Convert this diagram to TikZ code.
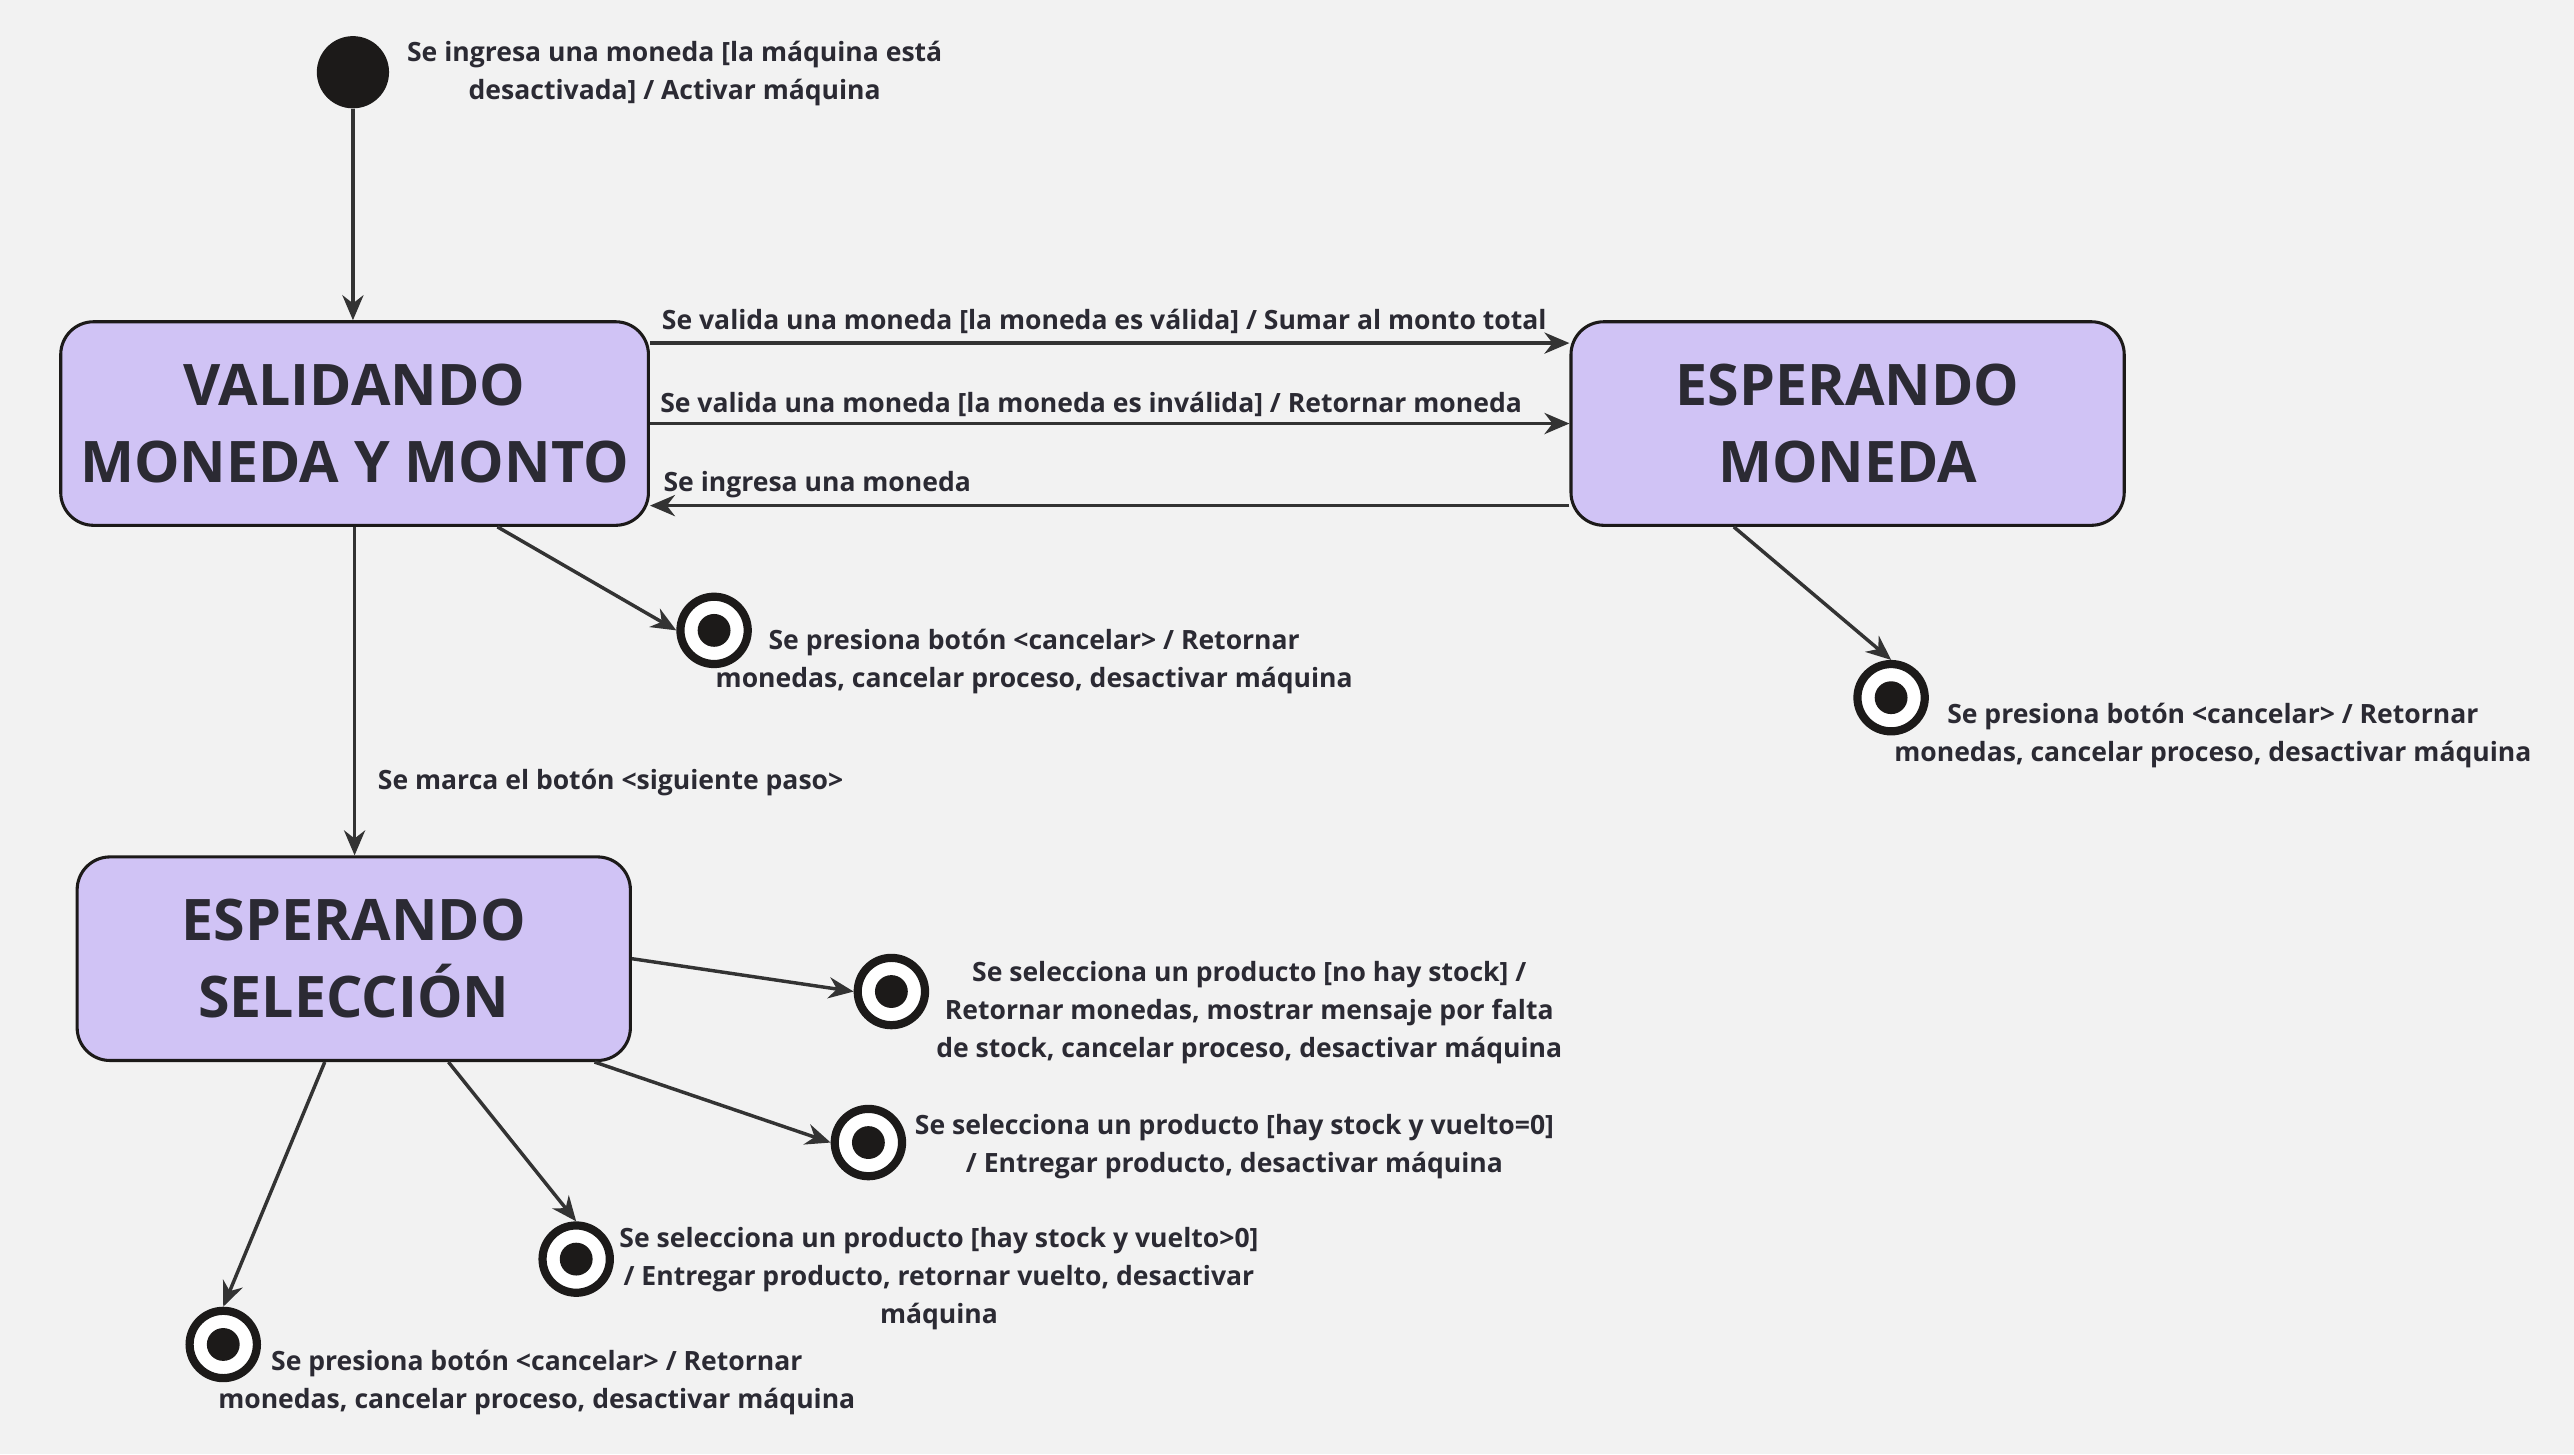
\documentclass[tikz,border=0pt]{standalone}
\usepackage{fontspec}
\setmainfont{Open Sans}
\usetikzlibrary{arrows.meta}
\definecolor{fondo}{HTML}{F2F2F2}
\definecolor{lila}{HTML}{D0C3F5}
\definecolor{tinta}{HTML}{1C1A19}
\definecolor{texto}{HTML}{2B2A33}
\definecolor{flecha}{HTML}{333333}
\tikzset{>={Stealth[length=13pt, width=11pt]}}
\tikzset{
	estado/.style={draw=tinta, line width=1.6pt, fill=lila, rounded corners=0.6cm, minimum width=10.11cm, minimum height=3.72cm, align=center, text=texto, font=\fontsize{29.8}{40}\selectfont\bfseries},
	inicio/.style={circle, fill=tinta, minimum size=1.32cm, inner sep=0pt},
	fin/.style={circle, draw=tinta, line width=0.15cm, fill=white, minimum size=1.23cm, inner sep=0pt, path picture={\fill[tinta] (path picture bounding box.center) circle (0.3cm);}},
	nota/.style={align=center, text=texto, font=\fontsize{13.8}{19.8}\selectfont\bfseries, inner sep=0pt},
	trans/.style={->, draw=flecha, line width=1.8pt}
}

\begin{document}
\begin{tikzpicture}[x=0.03cm, y=-0.03cm]
    \fill[fondo] (0, 0) rectangle (1568, 886);
    % estados
    \node[inicio] (ini) at (215, 44) {};
    \node[estado, minimum width=10.74cm] (val) at (216, 258) {VALIDANDO\\MONEDA Y MONTO};
    \node[estado] (esp) at (1125.5, 258) {ESPERANDO\\MONEDA};
    \node[estado] (sel) at (215.5, 584) {ESPERANDO\\SELECCIÓN};
    \node[fin] (f1) at (435, 384) {};
    \node[fin] (f2) at (1152, 425) {};
    \node[fin] (f3) at (543, 604) {};
    \node[fin] (f4) at (529, 696) {};
    \node[fin] (f5) at (351, 767) {};
    \node[fin] (f6) at (136, 819) {};
    % textos
    \node[nota] (tIni) at (411, 45) {Se ingresa una moneda [la máquina está\\desactivada] / Activar máquina};
    \node[nota, anchor=west] (tValida) at (403, 195.5) {Se valida una moneda [la moneda es válida] / Sumar al monto total};
    \node[nota, anchor=west] (tInvalida) at (402, 246.5) {Se valida una moneda [la moneda es inválida] / Retornar moneda};
    \node[nota, anchor=west] (tIngresa) at (404, 295.5) {Se ingresa una moneda};
    \node[nota] (tF1) at (630, 403) {Se presiona botón <cancelar> / Retornar\\monedas, cancelar proceso, desactivar máquina};
    \node[nota] (tF2) at (1348, 448) {Se presiona botón <cancelar> / Retornar\\monedas, cancelar proceso, desactivar máquina};
    \node[nota, anchor=west] (tSig) at (230, 476.5) {Se marca el botón <siguiente paso>};
    \node[nota] (tF3) at (761, 617) {Se selecciona un producto [no hay stock] /\\Retornar monedas, mostrar mensaje por falta\\de stock, cancelar proceso, desactivar máquina};
    \node[nota] (tF4) at (752, 698.5) {Se selecciona un producto [hay stock y vuelto=0]\\/ Entregar producto, desactivar máquina};
    \node[nota] (tF5) at (572, 779) {Se selecciona un producto [hay stock y vuelto>0]\\/ Entregar producto, retornar vuelto, desactivar\\máquina};
    \node[nota] (tF6) at (327, 842) {Se presiona botón <cancelar> / Retornar\\monedas, cancelar proceso, desactivar máquina};
    % transiciones
    \draw[trans] (ini) -- (ini |- val.north);
    \draw[trans] ([yshift=1.47cm]val.east) -- ([yshift=1.47cm]esp.west);
    \draw[trans] (val.east) -- (esp.west);
    \draw[trans] ([yshift=-1.5cm]esp.west) -- ([yshift=-1.5cm]val.east);
    \draw[trans] ([xshift=2.61cm]val.south) -- (f1.west);
    \draw[trans] ([xshift=-2.08cm]esp.south) -- (f2.north);
    \draw[trans] (val.south) -- (val.south |- sel.north);
    \draw[trans] (sel.east) -- (f3.west);
    \draw[trans] ([xshift=4.4cm]sel.south) -- (f4.west);
    \draw[trans] ([xshift=1.73cm]sel.south) -- (f5.north);
    \draw[trans] ([xshift=-0.53cm]sel.south) -- (f6.north);
\end{tikzpicture}
\end{document}
